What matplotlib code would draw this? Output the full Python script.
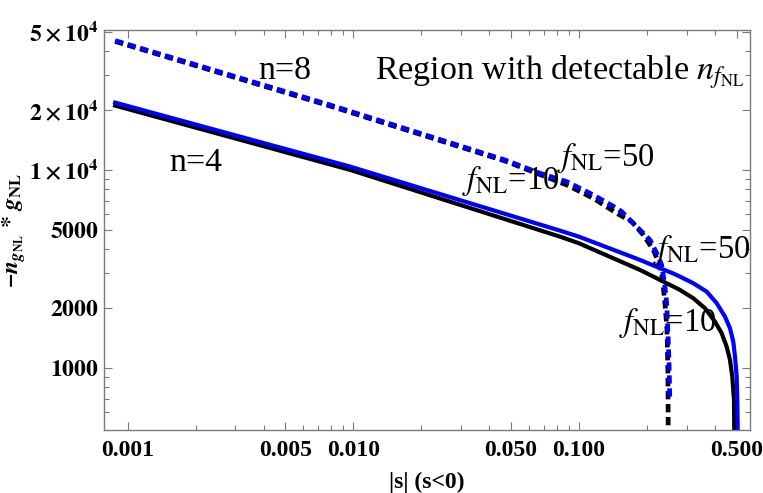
import matplotlib
matplotlib.use("Agg")
import matplotlib.pyplot as plt
from matplotlib.ticker import FixedLocator, FixedFormatter, NullFormatter

# |s| values and -n_gNL*g_NL
# n=4, f_NL=50 (blue solid)
s_n4_f50 = [0.00088, 0.0097, 0.0825, 0.100, 0.1866, 0.229, 0.2621, 0.2806,
            0.3215, 0.3685, 0.4082, 0.4442, 0.4675, 0.4835, 0.4920, 0.5006,
            0.5037, 0.5058, 0.5060]
v_n4_f50 = [21880, 10390, 4936, 4603, 3512, 3188, 3000, 2892,
            2678, 2429, 2123, 1816, 1587, 1357, 1140, 904,
            689, 486, 400]

# n=4, f_NL=10 (black solid)
s_n4_f10 = [0.00088, 0.0097, 0.0825, 0.100, 0.1866, 0.2450, 0.2806, 0.3215,
            0.3622, 0.4012, 0.4295, 0.4519, 0.4675, 0.4786, 0.4870, 0.4884,
            0.4886]
v_n4_f10 = [21130, 10000, 4603, 4264, 3126, 2678, 2477, 2249,
            2002, 1713, 1497, 1281, 1098, 904, 689, 486,
            400]

# n=8, f_NL=50 (blue dashed)
s_n8_f50 = [0.00088, 0.00788, 0.0470, 0.0672, 0.0883, 0.1158, 0.1471, 0.1548,
            0.1804, 0.2066, 0.2213, 0.2328, 0.2407, 0.2450, 0.2478, 0.2508,
            0.2529]
v_n8_f50 = [44980, 21290, 11230, 9624, 8727, 7475, 6405, 6157,
            5171, 4431, 3796, 3313, 2574, 2123, 1555, 1098,
            689]

# n=8, f_NL=10 (black dashed)
s_n8_f10 = [0.00088, 0.00788, 0.0470, 0.0883, 0.1158, 0.1471, 0.1714, 0.1930,
            0.2137, 0.2249, 0.2328, 0.2366, 0.2407, 0.2458, 0.2480, 0.2489,
            0.2489]
v_n8_f10 = [44560, 21040, 11100, 8400, 7195, 6043, 5483, 4695,
            3945, 3443, 3009, 2574, 2123, 1555, 977, 486,
            400]

x_major = [0.001, 0.005, 0.01, 0.05, 0.1, 0.5]
x_labels = ["0.001", "0.005", "0.010", "0.050", "0.100", "0.500"]
x_minor = [0.002, 0.003, 0.004, 0.006, 0.007, 0.008, 0.009,
           0.02, 0.03, 0.04, 0.06, 0.07, 0.08, 0.09, 0.2, 0.3, 0.4]

y_major = [1000, 2000, 5000, 1e4, 2e4, 5e4]
y_labels = [r"$\mathbf{1000}$", r"$\mathbf{2000}$", r"$\mathbf{5000}$",
            r"$\mathbf{1\times10^{4}}$", r"$\mathbf{2\times10^{4}}$",
            r"$\mathbf{5\times10^{4}}$"]
y_minor = [600, 700, 800, 900, 3000, 4000, 6000, 7000, 8000, 9000,
           3e4, 4e4]


def main():
    plt.rcParams["font.family"] = ["Liberation Serif", "DejaVu Serif"]
    plt.rcParams["mathtext.fontset"] = "stix"

    fig = plt.figure(figsize=(7.63, 4.93), dpi=100)
    ax = fig.add_axes([104 / 763, 1 - 430 / 493, 646 / 763, 400 / 493])

    lw_dash = 3.4
    dash = (0, (1.75, 1.0))
    ax.plot(s_n8_f10, v_n8_f10, color="black", lw=lw_dash, linestyle=dash,
            dash_capstyle="butt")
    ax.plot(s_n8_f50, v_n8_f50, color="#0000ff", lw=lw_dash, linestyle=dash,
            dash_capstyle="butt")
    ax.plot(s_n4_f10, v_n4_f10, color="black", lw=3.0)
    ax.plot(s_n4_f50, v_n4_f50, color="#0000ff", lw=3.0)

    ax.set_xscale("log")
    ax.set_yscale("log")
    ax.set_xlim(0.000785, 0.5734)
    ax.set_ylim(486, 50900)

    ax.xaxis.set_major_locator(FixedLocator(x_major))
    ax.xaxis.set_major_formatter(FixedFormatter(x_labels))
    ax.xaxis.set_minor_locator(FixedLocator(x_minor))
    ax.xaxis.set_minor_formatter(NullFormatter())
    ax.yaxis.set_major_locator(FixedLocator(y_major))
    ax.yaxis.set_major_formatter(FixedFormatter(y_labels))
    ax.yaxis.set_minor_locator(FixedLocator(y_minor))
    ax.yaxis.set_minor_formatter(NullFormatter())

    gray = "#7a7a7a"
    for sp in ax.spines.values():
        sp.set_color(gray)
        sp.set_linewidth(1.0)
    ax.tick_params(which="both", direction="in", top=True, right=True,
                   color=gray, width=0.8)
    ax.tick_params(which="major", length=6)
    ax.tick_params(which="minor", length=3.5)
    ax.tick_params(axis="x", which="major", pad=7, labelsize=17)
    ax.tick_params(axis="y", which="major", pad=4, labelsize=17)
    for lab in ax.get_xticklabels():
        lab.set_fontweight("bold")

    ax.set_xlabel("|s| (s<0)", fontsize=17, fontweight="bold", labelpad=8)
    ax.set_ylabel(r"$\mathbfit{-n}_{\mathbfit{g}_{\mathbf{NL}}}\mathbf{\,*\,}"
                  r"\mathbfit{g}_{\mathbf{NL}}$", fontsize=17)
    ax.yaxis.set_label_coords(-0.117, 0.5)

    big = 24.5
    small = 23.5
    ax.text(0.280, 0.897, "n=8", transform=ax.transAxes, ha="center",
            va="center", fontsize=big)
    ax.text(0.142, 0.667, "n=4", transform=ax.transAxes, ha="center",
            va="center", fontsize=big)
    ax.text(0.706, 0.895, r"Region with detectable $n_{f_{\rm NL}}$",
            transform=ax.transAxes, ha="center", va="center", fontsize=big)
    ax.text(0.630, 0.622, r"$f_{\rm NL}$=10", transform=ax.transAxes,
            ha="center", va="center", fontsize=small)
    ax.text(0.777, 0.680, r"$f_{\rm NL}$=50", transform=ax.transAxes,
            ha="center", va="center", fontsize=small)
    ax.text(0.926, 0.450, r"$f_{\rm NL}$=50", transform=ax.transAxes,
            ha="center", va="center", fontsize=small)
    ax.text(0.873, 0.2675, r"$f_{\rm NL}$=10", transform=ax.transAxes,
            ha="center", va="center", fontsize=small)

    fig.savefig("out.png", dpi=100)


if __name__ == "__main__":
    main()
